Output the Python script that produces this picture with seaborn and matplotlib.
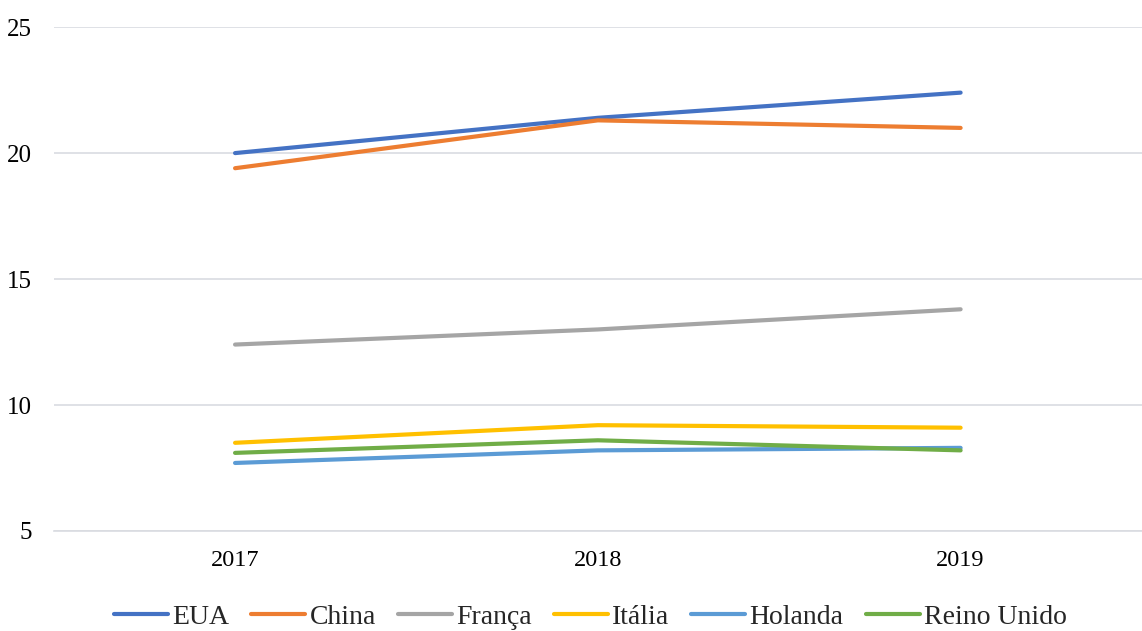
import matplotlib
matplotlib.use("Agg")
import matplotlib.pyplot as plt
import seaborn as sns
import pandas as pd
from matplotlib.ticker import FixedLocator

years = ["2017", "2018", "2019"]
countries = ["EUA", "China", "França", "Itália", "Holanda", "Reino Unido"]
eua = [20.0, 21.4, 22.4]
china = [19.4, 21.3, 21.0]
franca = [12.4, 13.0, 13.8]
italia = [8.5, 9.2, 9.1]
holanda = [7.7, 8.2, 8.3]
reino_unido = [8.1, 8.6, 8.2]
colors = ["#4472C4", "#ED7D31", "#A5A5A5", "#FFC000", "#5B9BD5", "#70AD47"]
y_ticks = [5, 10, 15, 20, 25]

series = [eua, china, franca, italia, holanda, reino_unido]
rows = []
for name, vals in zip(countries, series):
    for i, (yr, v) in enumerate(zip(years, vals)):
        rows.append({"pos": i, "ano": yr, "pais": name, "valor": v})
df = pd.DataFrame(rows)

sns.set_theme(style="white")
plt.rcParams["font.family"] = ["Liberation Serif", "DejaVu Serif"]

fig = plt.figure(figsize=(11.42, 6.31), dpi=100)
ax = fig.add_axes([0.047, 0.1585, 0.953, 0.7985])

sns.lineplot(data=df, x="pos", y="valor", hue="pais", hue_order=countries,
             palette=colors, linewidth=3.0, ax=ax, legend=False,
             solid_capstyle="round")

ax.set_xlim(-0.5, 2.5)
ax.set_ylim(5, 25)
ax.set_yticks(y_ticks)
ax.set_yticklabels([str(t) for t in y_ticks], fontsize=18, color="black")
ax.set_xticks(range(len(years)))
ax.set_xticklabels(years, fontsize=17.5, color="black")
ax.xaxis.set_minor_locator(FixedLocator([-0.5, 0.5, 1.5, 2.5]))
ax.tick_params(axis="x", which="major", length=0, pad=14)
ax.tick_params(axis="x", which="minor", length=6, width=1.2, color="#D9DCE1", direction="out")
ax.tick_params(axis="y", length=0, pad=15.5)

ax.grid(axis="y", color="#D9DCE1", linewidth=1.2)
ax.grid(axis="x", visible=False)
ax.set_axisbelow(True)
for side in ["top", "right", "left"]:
    ax.spines[side].set_visible(False)
ax.spines["bottom"].set_color("#D9DCE1")
ax.spines["bottom"].set_linewidth(1.2)
ax.set_xlabel("")
ax.set_ylabel("")

handles = [plt.Line2D([0], [0], color=c, linewidth=3.0) for c in colors]
fig.legend(handles, countries, loc="center", ncol=6, frameon=False,
           fontsize=20, handlelength=1.94, handletextpad=0.15,
           columnspacing=0.8, bbox_to_anchor=(0.517, 0.022))

fig.savefig("out.png", dpi=100)
